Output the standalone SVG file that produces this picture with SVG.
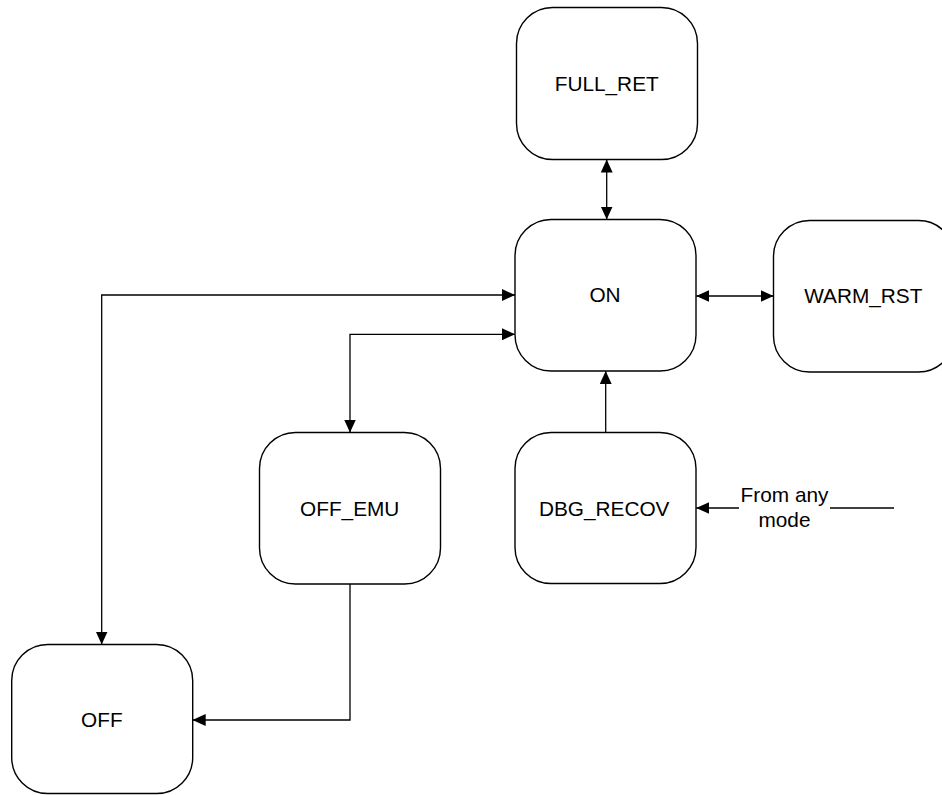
<svg xmlns="http://www.w3.org/2000/svg" width="942" height="795" viewBox="0 0 942 795">
<style>
.node rect{fill:#fff;stroke:#000;stroke-width:1.4}
.node text,.lbl{font-family:"Liberation Sans",Arial,sans-serif;font-size:20.8px;fill:#000;text-anchor:middle}
.edge{fill:none;stroke:#000;stroke-width:1.3}
</style>
<defs>
<marker id="ah" markerUnits="userSpaceOnUse" markerWidth="13" markerHeight="12" viewBox="0 0 12 11" refX="12" refY="5.5" orient="auto-start-reverse">
<path d="M0,0 L12,5.5 L0,11 z" fill="#000"/>
</marker>
</defs>
<rect width="942" height="795" fill="#fff"/>
<g id="connectors">
<path class="edge" d="M606.7,159.5 L606.7,219.5" marker-start="url(#ah)" marker-end="url(#ah)"/>
<path class="edge" d="M696.2,296 L773.5,296" marker-start="url(#ah)" marker-end="url(#ah)"/>
<path class="edge" d="M101.7,644.5 L101.7,295 L515,295" marker-start="url(#ah)" marker-end="url(#ah)"/>
<path class="edge" d="M350,432.5 L350,334.3 L515,334.3" marker-start="url(#ah)" marker-end="url(#ah)"/>
<path class="edge" d="M350,584 L350,720 L192.7,720" marker-end="url(#ah)"/>
<path class="edge" d="M605.7,432.5 L605.7,371" marker-end="url(#ah)"/>
<path class="edge" d="M894,508 L696.2,508" marker-end="url(#ah)"/>
<rect x="739" y="484" width="91" height="48" fill="#fff"/>
<text class="lbl" x="784.5" y="502.3">From any</text>
<text class="lbl" x="784.5" y="526.7">mode</text>
</g>
<g id="FULL_RET" class="node"><rect x="516.5" y="7.5" width="181" height="152" rx="36" ry="36"/><text x="606.7" y="90.7">FULL_RET</text></g>
<g id="ON" class="node"><rect x="515" y="219.5" width="181" height="151.5" rx="36" ry="36"/><text x="605" y="302.3">ON</text></g>
<g id="WARM_RST" class="node"><rect x="773.5" y="220.5" width="181" height="151.5" rx="36" ry="36"/><text x="863.3" y="302.7">WARM_RST</text></g>
<g id="OFF_EMU" class="node"><rect x="259.5" y="432.5" width="181" height="151.5" rx="36" ry="36"/><text x="349.7" y="515.7">OFF_EMU</text></g>
<g id="DBG_RECOV" class="node"><rect x="515" y="432.5" width="181" height="151" rx="36" ry="36"/><text x="604.2" y="515.7">DBG_RECOV</text></g>
<g id="OFF" class="node"><rect x="11.7" y="644.5" width="181" height="149" rx="36" ry="36"/><text x="101.8" y="726.7">OFF</text></g>
</svg>
